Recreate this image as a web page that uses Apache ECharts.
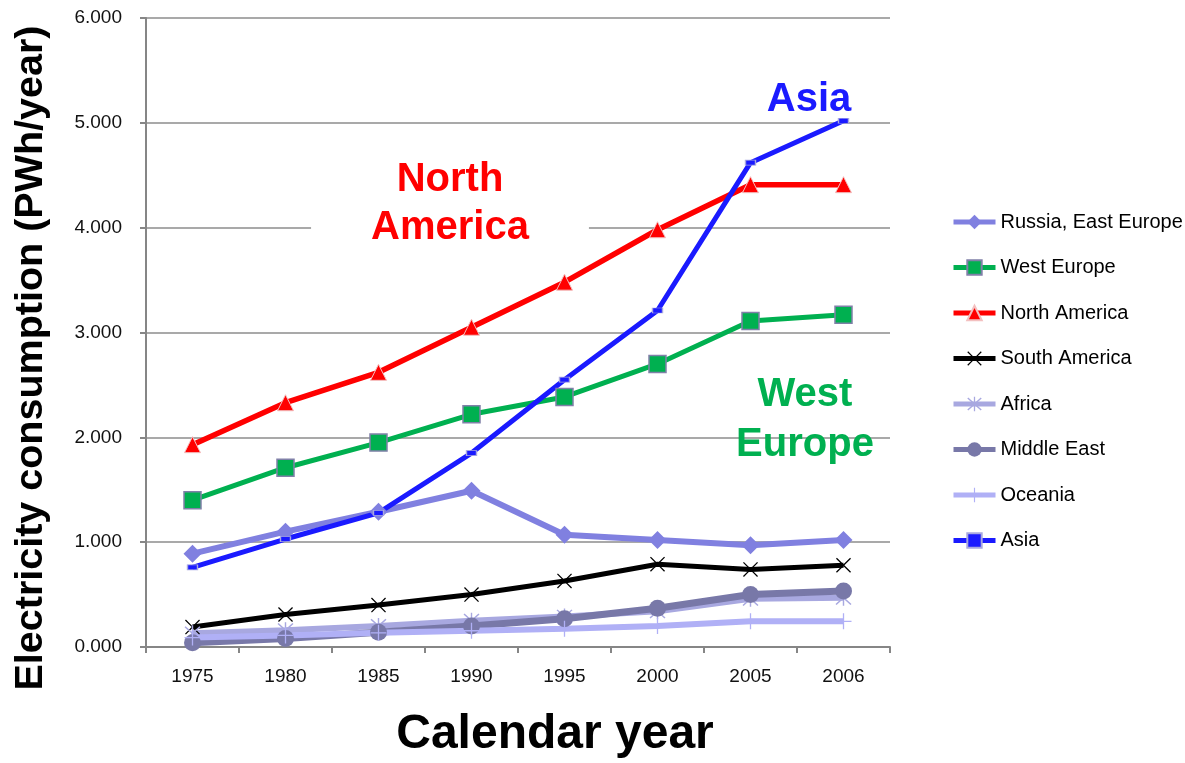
<!DOCTYPE html>
<html>
<head>
<meta charset="utf-8">
<script src="https://cdn.jsdelivr.net/npm/echarts@6/dist/echarts.min.js"></script>
<style>
  html, body { margin: 0; padding: 0; background: #ffffff; }
  #chart { width: 1185px; height: 763px; }
</style>
</head>
<body>
<div id="chart"></div>
<script>
// Calendar years on the x axis
const years = ['1975', '1980', '1985', '1990', '1995', '2000', '2005', '2006'];

// Electricity consumption by region, PWh/year
const russiaEastEurope = [0.89, 1.10, 1.29, 1.49, 1.07, 1.02, 0.97, 1.02];
const westEurope       = [1.40, 1.71, 1.95, 2.22, 2.385, 2.70, 3.11, 3.17];
const northAmerica     = [1.93, 2.33, 2.62, 3.05, 3.48, 3.98, 4.41, 4.41];
const southAmerica     = [0.19, 0.31, 0.40, 0.50, 0.63, 0.79, 0.74, 0.78];
const africa           = [0.13, 0.16, 0.20, 0.25, 0.29, 0.34, 0.46, 0.47];
const middleEast       = [0.04, 0.08, 0.14, 0.20, 0.27, 0.37, 0.50, 0.535];
const oceania          = [0.09, 0.11, 0.135, 0.155, 0.175, 0.20, 0.245, 0.245];
const asia             = [0.76, 1.03, 1.28, 1.85, 2.55, 3.21, 4.62, 5.02];

// Y axis range and step
const yMin = 0, yMax = 6, yStep = 1;

const FONT = "'Liberation Sans', Arial, sans-serif";

// Custom marker shapes
const SYM_X = 'path://M0,1.2 L1.2,0 L10,8.8 L18.8,0 L20,1.2 L11.2,10 L20,18.8 L18.8,20 L10,11.2 L1.2,20 L0,18.8 L8.8,10 Z';
const SYM_STAR = 'path://M9.2,0 L10.8,0 L10.8,20 L9.2,20 Z M1,2.2 L2.2,1 L19,17.8 L17.8,19 Z M17.8,1 L19,2.2 L2.2,19 L1,17.8 Z';
const SYM_PLUS = 'path://M9.2,0 L10.8,0 L10.8,9.2 L20,9.2 L20,10.8 L10.8,10.8 L10.8,20 L9.2,20 L9.2,10.8 L0,10.8 L0,9.2 L9.2,9.2 Z';

function lineSeries(name, data, color, width, symbol, size, extraItem) {
  return {
    name: name,
    type: 'line',
    data: data,
    symbol: symbol,
    symbolSize: size,
    showAllSymbol: true,
    lineStyle: { color: color, width: width },
    itemStyle: Object.assign({ color: color }, extraItem || {}),
    emphasis: { disabled: true },
    animation: false
  };
}

const chart = echarts.init(document.getElementById('chart'), null, { renderer: 'canvas' });

chart.setOption({
  backgroundColor: '#ffffff',
  animation: false,
  grid: { left: 146, right: 295, top: 18, bottom: 116, containLabel: false },
  xAxis: {
    type: 'category',
    data: years,
    boundaryGap: true,
    axisLine: { lineStyle: { color: '#868686', width: 2 } },
    axisTick: { show: true, length: 6, lineStyle: { color: '#868686', width: 2 } },
    axisLabel: { color: '#111', fontSize: 19, fontFamily: FONT, margin: 20 },
    splitLine: { show: false }
  },
  yAxis: {
    type: 'value',
    min: yMin, max: yMax, interval: yStep,
    axisLine: { show: true, lineStyle: { color: '#868686', width: 2 } },
    axisTick: { show: true, length: 6, lineStyle: { color: '#868686', width: 2 } },
    axisLabel: {
      color: '#111', fontSize: 19, fontFamily: FONT, margin: 24,
      formatter: v => v.toFixed(3)
    },
    splitLine: { show: true, lineStyle: { color: '#8c8c8c', width: 1.5 } }
  },
  legend: {
    orient: 'vertical',
    left: 951,
    top: 212,
    padding: 0,
    itemWidth: 42,
    itemHeight: 18,
    itemGap: 25.5,
    lineStyle: { width: 5 },
    textStyle: { color: '#000', fontSize: 20, fontFamily: FONT },
    data: ['Russia, East Europe', 'West Europe', 'North America', 'South America',
           'Africa', 'Middle East', 'Oceania', 'Asia']
  },
  graphic: [
    {
      type: 'text', z: 1,
      x: 450, y: 204,
      style: {
        text: 'North\nAmerica', fill: '#ff0000', font: "bold 40px " + FONT,
        align: 'center', verticalAlign: 'middle', lineHeight: 48,
        backgroundColor: '#ffffff', padding: [0, 60, 0, 60]
      }
    },
    {
      type: 'text', z: 1,
      x: 809, y: 100,
      style: { text: 'Asia', fill: '#1a1aff', font: "bold 40px " + FONT, align: 'center', verticalAlign: 'middle' }
    },
    {
      type: 'text', z: 1,
      x: 805, y: 420,
      style: {
        text: 'West\nEurope', fill: '#00b050', font: "bold 40px " + FONT,
        align: 'center', verticalAlign: 'middle', lineHeight: 50
      }
    },
    {
      type: 'text', z: 1,
      x: 555, y: 735,
      style: { text: 'Calendar year', fill: '#000', font: "bold 48px " + FONT, align: 'center', verticalAlign: 'middle' }
    },
    {
      type: 'text', z: 1,
      x: 31, y: 358,
      rotation: Math.PI / 2,
      style: { text: 'Electricity consumption (PWh/year)', fill: '#000', font: "bold 39.5px " + FONT, align: 'center', verticalAlign: 'middle' }
    }
  ],
  series: [
    lineSeries('Russia, East Europe', russiaEastEurope, '#8080e0', 6, 'diamond', 18),
    lineSeries('West Europe', westEurope, '#00b050', 5, 'rect', 17, { borderColor: '#8080a8', borderWidth: 1.5 }),
    lineSeries('North America', northAmerica, '#ff0000', 5.5, 'triangle', 16, { borderColor: '#f3c0c0', borderWidth: 1 }),
    lineSeries('South America', southAmerica, '#000000', 5, SYM_X, 15),
    lineSeries('Africa', africa, '#a8a8e0', 6, SYM_STAR, 16),
    lineSeries('Middle East', middleEast, '#7878a8', 7, 'circle', 17),
    lineSeries('Oceania', oceania, '#b0b0f6', 6, SYM_PLUS, 16),
    lineSeries('Asia', asia, '#1a1aff', 5, 'rect', [10, 5], { borderColor: '#a8a8e0', borderWidth: 1 })
  ]
});
</script>
</body>
</html>
